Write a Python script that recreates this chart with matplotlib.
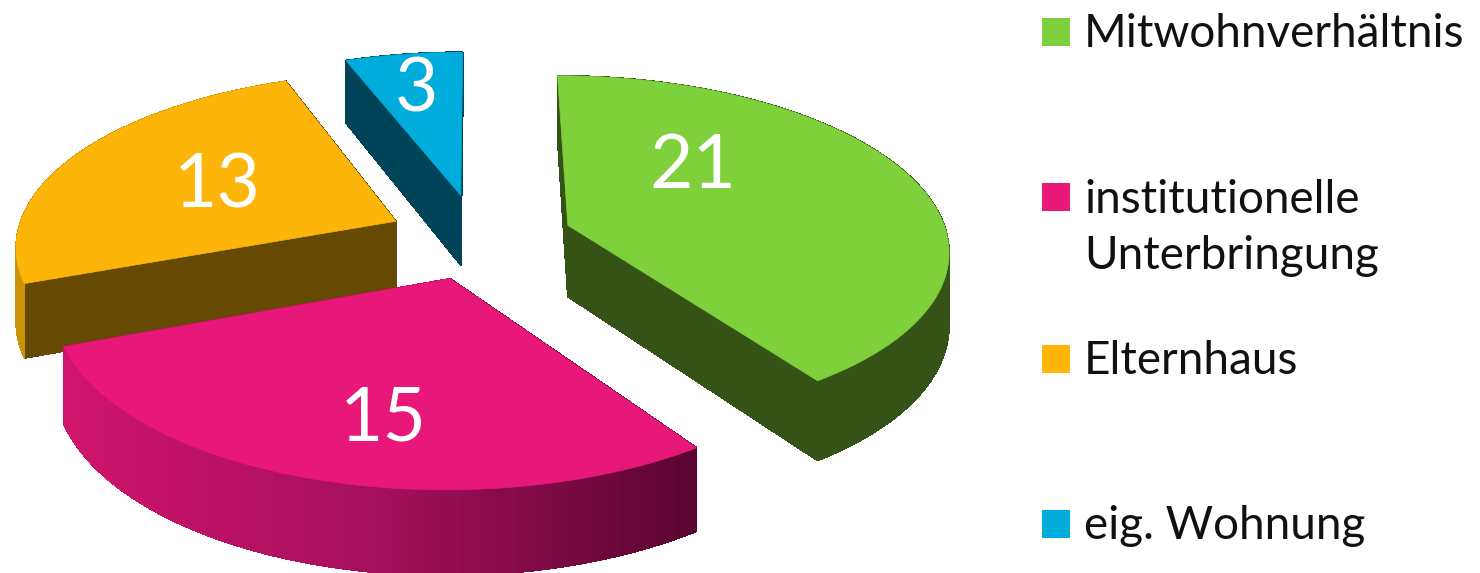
import numpy as np
import matplotlib
matplotlib.use('Agg')
import matplotlib.pyplot as plt
from matplotlib.colors import LinearSegmentedColormap
from matplotlib.patches import Polygon, Rectangle

# values and labels of the pie, clockwise from the top
labels = ['Mitwohnverhältnis', 'institutionelle\nUnterbringung', 'Elternhaus', 'eig. Wohnung']
values = [21, 15, 13, 3]
tops = ['#7fd13b', '#e8177a', '#fdb50a', '#00acdb']
sides = ['#355316', None, '#664903', '#004459']
rims = ['#355316', None, '#c99406', '#004459']
explode = [0.25, 0.24, 0.24, 0.26]

# "camera" of the fake 3d pie
cx, cy = 478, 238
R = 380
squash = 0.453
persp = 0.13
depth = 72

# where the numbers sit, measured from the point of each slice
label_dx = [125, -67, -179, -44]
label_dy = [-59, 140, -35, -105]

magenta_side = LinearSegmentedColormap.from_list('side', ['#d0146e', '#a40f5c', '#5a0530'])

def project(x, y, z=0):
    w = 1 + persp * y
    return cx + R * x / w, cy - R * squash * y / w + z / w

fig = plt.figure(figsize=(14.8, 5.73), dpi=100)
ax = fig.add_axes([0, 0, 1, 1])
ax.set_xlim(0, 1480)
ax.set_ylim(573, 0)
ax.axis('off')

total = sum(values)
edges = np.cumsum([0] + values) / total * 2 * np.pi
wedges = []
for i in range(len(values)):
    t = np.linspace(edges[i], edges[i + 1], max(values[i] * 6, 12))
    mid = (edges[i] + edges[i + 1]) / 2
    ox = explode[i] * np.sin(mid)
    oy = explode[i] * np.cos(mid)
    px = np.r_[ox, ox + np.sin(t)]
    py = np.r_[oy, oy + np.cos(t)]
    wedges.append((i, px, py, oy))

# back slices first
for i, px, py, oy in sorted(wedges, key=lambda s: -s[3]):
    n = len(px)
    quads = []
    for k in range(n):
        m = (k + 1) % n
        quads.append(((py[k] + py[m]) / 2, k, m))
    for _, k, m in sorted(quads, reverse=True):
        x0, y0 = project(px[k], py[k])
        x1, y1 = project(px[m], py[m])
        x2, y2 = project(px[m], py[m], depth)
        x3, y3 = project(px[k], py[k], depth)
        if sides[i] is None:
            c = magenta_side(np.clip(((x0 + x1) / 2 - 65) / 630, 0, 1))
        elif k == 0 or m == 0:
            c = sides[i]  # cut faces
        else:
            c = rims[i]
        ax.add_patch(Polygon([(x0, y0), (x1, y1), (x2, y2), (x3, y3)], fc=c, ec=c, lw=0.5, antialiased=False))
    top = [project(a, b) for a, b in zip(px, py)]
    ax.add_patch(Polygon(top, fc=tops[i], ec=tops[i], lw=0.5))

# numbers on the slices
for i, px, py, oy in wedges:
    ax0, ay0 = project(px[0], py[0])
    ax.text(ax0 + label_dx[i], ay0 + label_dy[i], str(values[i]), color='white', fontsize=54,
            family='Lato', ha='center', va='center')

# legend
legend_y = [32, 197, 359, 524]
for lab, col, y in zip(labels, tops, legend_y):
    ax.add_patch(Rectangle((1042, y - 14), 28, 28, fc=col, ec='none'))
    ax.text(1084, y + 2 if '\n' not in lab else y + 31, lab, color='#111111', fontsize=33, family='Lato',
            ha='left', va='center', linespacing=1.4)

fig.savefig('out.png', dpi=100)
